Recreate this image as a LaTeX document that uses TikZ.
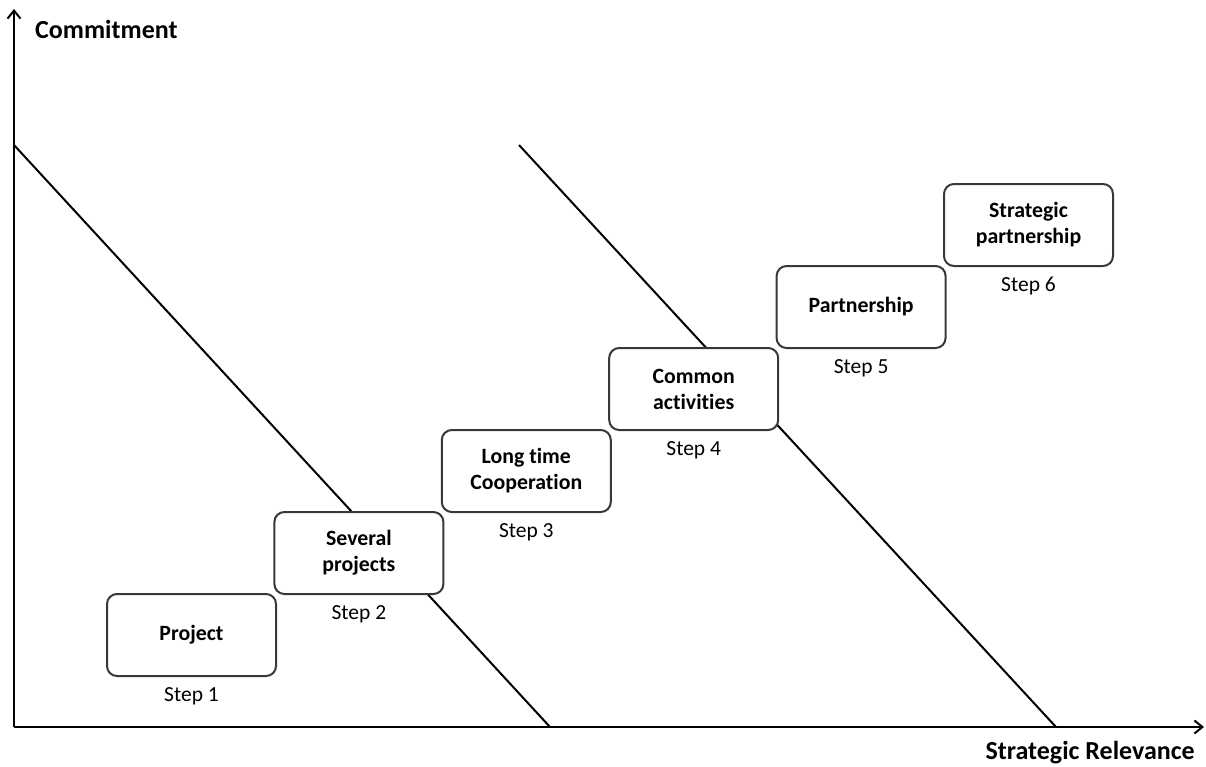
\documentclass[tikz,border=0pt]{standalone}
\usepackage{fontspec}
\setmainfont[Ligatures={NoCommon}]{Carlito}
\usetikzlibrary{arrows.meta,positioning}

\begin{document}
\begin{tikzpicture}[
  x=1pt, y=-1pt,
  stagebox/.style={draw=black!78, fill=white, line width=2pt, rounded corners=10pt,
    minimum width=169pt, minimum height=82pt, align=center, inner sep=0pt,
    font=\fontsize{21.8}{26}\selectfont\bfseries},
  steplbl/.style={inner sep=0pt, font=\fontsize{21.5}{26}\selectfont},
  axlbl/.style={inner sep=0pt, font=\fontsize{26}{30}\selectfont\bfseries},
  axis/.style={line width=2pt, -{Straight Barb[length=8pt, width=13pt, line width=2pt]}},
  band/.style={line width=2pt}
]
  \useasboundingbox (0,0) rectangle (1206,766);
  \coordinate (org) at (14,727);
  \coordinate (ytip) at (14,9);
  \coordinate (xtip) at (1204,727);
  \coordinate (la) at (14,145);
  \coordinate (lb) at (550,727);
  \coordinate (ra) at (519,145);
  \coordinate (rb) at (1056,727);
  \draw[band] (la) -- (lb);
  \draw[band] (ra) -- (rb);
  \draw[axis] (org) -- (ytip);
  \draw[axis] (org) -- (xtip);
  \node[axlbl, anchor=base west] (ylbl) at (35,38) {Commitment};
  \node[axlbl, anchor=base east] (xlbl) at (1195,759) {Strategic Relevance};
  \node[stagebox] (s1) at (191.5,635) {Project};
  \node[stagebox] (s2) at (358.9,553) {Several\\projects};
  \node[stagebox] (s3) at (526.3,471) {Long time\\Cooperation};
  \node[stagebox] (s4) at (693.7,389) {Common\\activities};
  \node[stagebox] (s5) at (861.1,307) {Partnership};
  \node[stagebox] (s6) at (1028.5,225) {Strategic\\partnership};
  \node[steplbl, below=10pt of s1] (t1) {Step 1};
  \node[steplbl, below=10pt of s2] (t2) {Step 2};
  \node[steplbl, below=10pt of s3] (t3) {Step 3};
  \node[steplbl, below=10pt of s4] (t4) {Step 4};
  \node[steplbl, below=10pt of s5] (t5) {Step 5};
  \node[steplbl, below=10pt of s6] (t6) {Step 6};
\end{tikzpicture}
\end{document}
